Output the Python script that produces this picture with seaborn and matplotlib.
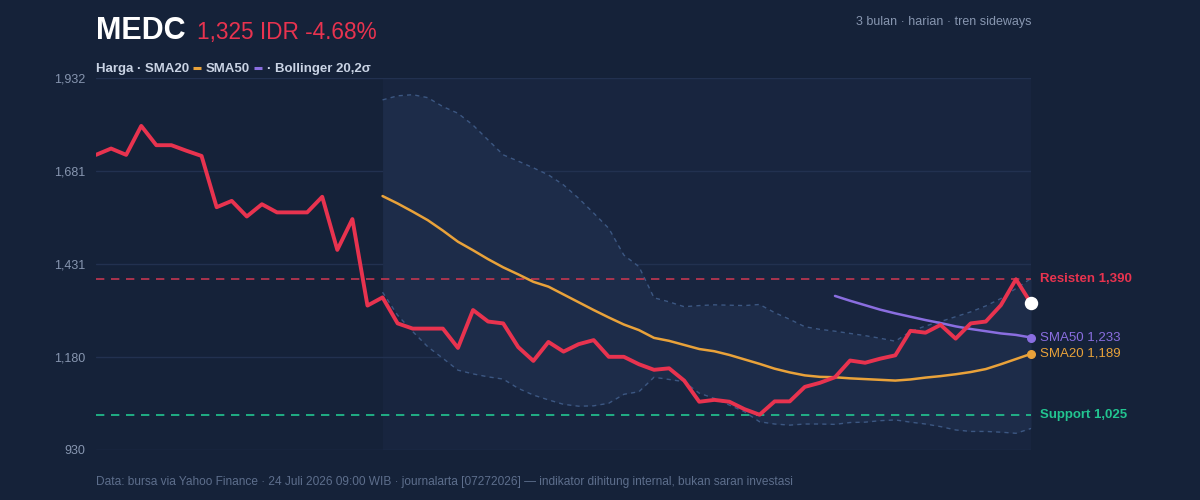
import seaborn as sns
import matplotlib.pyplot as plt
import numpy as np
import pandas as pd
from matplotlib.lines import Line2D

# price (IDR), 63 trading days
harga = [1725, 1742, 1725, 1803, 1751, 1751, 1736, 1722, 1584, 1601,
         1559, 1592, 1570, 1570, 1570, 1612, 1469, 1552, 1319, 1341,
         1271, 1257, 1257, 1257, 1205, 1307, 1276, 1271, 1207, 1170,
         1221, 1195, 1215, 1226, 1181, 1181, 1161, 1146, 1150, 1117,
         1060, 1065, 1060, 1040, 1025, 1061, 1061, 1100, 1111, 1126,
         1171, 1165, 1176, 1185, 1251, 1246, 1267, 1230, 1271, 1276,
         1320, 1390, 1325]

# SMA20 and Bollinger bands from day 19 on
sma20 = [1614, 1594, 1572, 1549, 1521, 1491, 1468, 1444, 1422, 1403,
         1383, 1370, 1349, 1328, 1307, 1287, 1268, 1253, 1232, 1224,
         1213, 1202, 1196, 1186, 1174, 1162, 1149, 1139, 1131, 1127,
         1126, 1123, 1121, 1119, 1117, 1120, 1125, 1129, 1134, 1140,
         1148, 1161, 1175, 1189]
bb_atas = [1873, 1884, 1887, 1879, 1855, 1837, 1805, 1765, 1725, 1708,
           1690, 1671, 1644, 1608, 1568, 1527, 1455, 1424, 1340, 1329,
           1316, 1319, 1321, 1320, 1319, 1322, 1300, 1282, 1262, 1255,
           1250, 1244, 1238, 1231, 1223, 1249, 1264, 1276, 1289, 1302,
           1318, 1338, 1365, 1392]
bb_bawah = [1355, 1293, 1249, 1208, 1177, 1145, 1135, 1127, 1121, 1096,
            1078, 1065, 1053, 1048, 1049, 1056, 1080, 1087, 1126, 1120,
            1114, 1083, 1069, 1051, 1033, 1006, 1000, 997, 1000, 1000,
            999, 1004, 1005, 1009, 1011, 1005, 1000, 993, 984, 980,
            980, 978, 975, 988]

# SMA50 from day 49 on
sma50 = [1345, 1332, 1320, 1308, 1298, 1289, 1280, 1272, 1263, 1256,
         1250, 1244, 1240, 1233]

resisten = 1390
support = 1025
yticks = [930, 1180, 1431, 1681, 1932]

n = len(harga)
df = pd.DataFrame({'hari': np.arange(n), 'harga': harga})
df['sma20'] = [np.nan] * (n - len(sma20)) + sma20
df['atas'] = [np.nan] * (n - len(bb_atas)) + bb_atas
df['bawah'] = [np.nan] * (n - len(bb_bawah)) + bb_bawah
df['sma50'] = [np.nan] * (n - len(sma50)) + sma50

BG = '#152239'
RED = '#e8334f'
ORANGE = '#e9a23a'
PURPLE = '#8a6ee0'
GREEN = '#22c590'
MUTED = '#8796b0'

sns.set_theme(style='dark')
plt.rcParams['font.family'] = ['Liberation Sans', 'DejaVu Sans']

W, H = 1200, 500
fig = plt.figure(figsize=(12, 5), dpi=100, facecolor=BG)
ax = fig.add_axes([0.08, 0.1, 0.7792, 0.744])
ax.set_facecolor(BG)

start = n - len(bb_atas)
ax.axvspan(start, n - 1, color='#18253f', zorder=0, lw=0)
band = df.dropna(subset=['atas'])
ax.fill_between(band['hari'], band['bawah'], band['atas'], color='#1d2c49', lw=0, zorder=1)
for col in ['atas', 'bawah']:
    sns.lineplot(data=df, x='hari', y=col, ax=ax, color='#3c5782', lw=1,
                 linestyle=(0, (3, 3)), zorder=2)

for v in yticks:
    ax.axhline(v, color='#223150', lw=1, zorder=0.5)
ax.axhline(resisten, color='#c23650', lw=1.2, linestyle=(0, (5, 4)), zorder=2)
ax.axhline(support, color=GREEN, lw=1.2, linestyle=(0, (5, 4)), zorder=2)

sns.lineplot(data=df, x='hari', y='sma20', ax=ax, color=ORANGE, lw=1.8, zorder=3)
sns.lineplot(data=df, x='hari', y='sma50', ax=ax, color=PURPLE, lw=1.8, zorder=3)
sns.lineplot(data=df, x='hari', y='harga', ax=ax, color=RED, lw=2.8, zorder=4)

ax.scatter([n - 1], [sma20[-1]], s=30, color=ORANGE, zorder=5, clip_on=False)
ax.scatter([n - 1], [sma50[-1]], s=30, color=PURPLE, zorder=5, clip_on=False)
ax.scatter([n - 1], [harga[-1]], s=75, color='white', zorder=6, clip_on=False)

ax.set_xlim(0, n - 1)
ax.set_ylim(yticks[0], yticks[-1])
ax.set_yticks(yticks)
ax.set_yticklabels([f'{v:,}' for v in yticks], color=MUTED, fontsize=9)
ax.tick_params(axis='y', length=0, pad=8)
ax.set_xticks([])
ax.set_xlabel('')
ax.set_ylabel('')
ax.grid(False)
for s in ax.spines.values():
    s.set_visible(False)

# right-side labels
lab_x = n - 1 + 0.6
ax.text(lab_x, resisten, f'Resisten {resisten:,}', color=RED, fontsize=9.5,
        fontweight='bold', va='center', ha='left', clip_on=False)
ax.text(lab_x, sma50[-1], f'SMA50 {sma50[-1]:,}', color=PURPLE, fontsize=9.5,
        va='center', ha='left', clip_on=False)
ax.text(lab_x, sma20[-1], f'SMA20 {sma20[-1]:,}', color=ORANGE, fontsize=9.5,
        va='center', ha='left', clip_on=False)
ax.text(lab_x, support, f'Support {support:,}', color=GREEN, fontsize=9.5,
        fontweight='bold', va='center', ha='left', clip_on=False)

# title
t1 = fig.text(96 / W, 1 - 39 / H, 'MEDC', color='white', fontsize=22,
              fontweight='bold', va='baseline', ha='left')
fig.canvas.draw()
r = fig.canvas.get_renderer()
bx = t1.get_window_extent(r).x1 + 11
fig.text(bx / W, 1 - 39 / H, '1,325 IDR -4.68%', color=RED, fontsize=16.3,
         va='baseline', ha='left')
fig.text(1031 / W, 1 - 22 / H, '3 bulan · harian · tren sideways', color=MUTED,
         fontsize=9, va='center', ha='right')

# legend line: text pieces with small colored bars between
LEG = '#c9d3e4'
base = H - 72
x = 96
for part, bar in [('Harga · SMA20', ORANGE), ('SMA50', PURPLE), ('· Bollinger 20,2σ', None)]:
    t = fig.text(x / W, base / H, part, color=LEG, fontsize=9.5, fontweight='bold',
                 va='baseline', ha='left')
    fig.canvas.draw()
    x = t.get_window_extent(r).x1 + 4
    if bar is not None:
        fig.add_artist(Line2D([x / W, (x + 8) / W], [(base + 4) / H, (base + 4) / H],
                              color=bar, lw=2.2, solid_capstyle='butt',
                              transform=fig.transFigure))
        x += 13

fig.text(96 / W, 1 - 482 / H,
         'Data: bursa via Yahoo Finance · 24 Juli 2026 09:00 WIB · journalarta [07272026] '
         '— indikator dihitung internal, bukan saran investasi',
         color='#5d6e8c', fontsize=8.6, va='center', ha='left')

fig.savefig('out.png', dpi=100, facecolor=BG)
